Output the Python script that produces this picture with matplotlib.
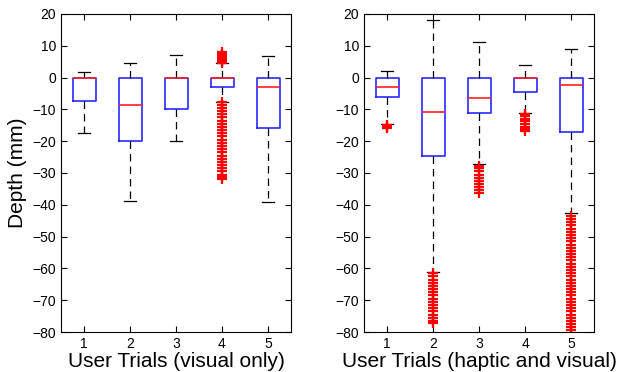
import matplotlib
matplotlib.use('Agg')
import matplotlib.pyplot as plt

plt.rcParams['font.family'] = ['Liberation Sans', 'DejaVu Sans']

trials = [1, 2, 3, 4, 5]

# visual only: whisker low, q1, median, q3, whisker high
vis_whislo = [-17.4, -38.7, -20.0, -7.6, -39.0]
vis_q1 = [-7.4, -19.9, -10.0, -3.1, -15.8]
vis_med = [0.0, -8.5, 0.0, 0.0, -2.9]
vis_q3 = [0.0, 0.0, 0.0, 0.0, 0.0]
vis_whishi = [1.8, 4.5, 7.1, 4.5, 6.9]
vis_fliers = [
    [],
    [],
    [],
    [8.0, 7.5, 7.0, 6.5, 6.0, 5.5, 5.0, 4.6,
     -7.8, -8.5, -9.5, -10.5, -11.5, -12.5, -13.5, -14.5, -15.5, -16.5,
     -17.5, -18.5, -19.5, -20.5, -21.5, -22.5, -23.5, -24.5, -25.5,
     -26.5, -27.5, -28.5, -29.5, -30.5, -31.2, -31.8],
    [],
]

# haptic and visual
hap_whislo = [-14.5, -61.0, -27.3, -11.0, -42.5]
hap_q1 = [-6.0, -24.5, -11.0, -4.4, -17.2]
hap_med = [-2.9, -10.7, -6.4, 0.0, -2.3]
hap_q3 = [0.0, 0.0, 0.0, 0.0, 0.0]
hap_whishi = [2.0, 18.2, 11.3, 4.1, 9.0]
hap_fliers = [
    [-14.8, -15.2, -15.6, -16.0],
    [-61.5, -62.5, -63.5, -64.5, -65.5, -66.5, -67.5, -68.5, -69.5,
     -70.5, -71.5, -72.5, -73.5, -74.5, -75.5, -76.5, -77.3],
    [-27.8, -28.5, -29.5, -30.5, -31.5, -32.5, -33.5, -34.5, -35.5, -36.2],
    [-11.5, -12.2, -13.0, -13.8, -14.6, -15.4, -16.2, -16.8],
    [-43.5, -44.5, -45.5, -46.5, -47.5, -48.5, -49.5, -50.5, -51.5, -52.5,
     -53.5, -54.5, -55.5, -56.5, -57.5, -58.5, -59.5, -60.5, -61.5, -62.5,
     -63.5, -64.5, -65.5, -66.5, -67.5, -68.5, -69.5, -70.5, -71.5, -72.5,
     -73.5, -74.5, -75.5, -76.5, -77.5, -78.5, -79.5],
]

yticks = [20, 10, 0, -10, -20, -30, -40, -50, -60, -70, -80]


def make_stats(lo, q1, med, q3, hi, fliers):
    stats = []
    for i in range(len(lo)):
        stats.append({'whislo': lo[i], 'q1': q1[i], 'med': med[i],
                      'q3': q3[i], 'whishi': hi[i], 'fliers': fliers[i]})
    return stats


def draw(ax, stats, xlabel):
    ax.bxp(stats, positions=trials, widths=0.5, showfliers=True,
           boxprops=dict(color='#2a2aff', linewidth=1.2),
           medianprops=dict(color='#ff2020', linewidth=1.2),
           whiskerprops=dict(color='black', linestyle=(0, (6, 4)), linewidth=0.9),
           capprops=dict(color='black', linewidth=0.9),
           flierprops=dict(marker='+', markeredgecolor='red', markersize=7,
                           markeredgewidth=1.6, linestyle='none'))
    ax.set_xlim(0.5, 5.5)
    ax.set_ylim(-80, 20)
    ax.set_yticks(yticks)
    ax.set_xticks(trials)
    ax.set_xticklabels([str(t) for t in trials])
    ax.tick_params(direction='in', top=True, right=True, labelsize=10, length=4)
    ax.set_xlabel(xlabel, fontsize=15, labelpad=1)


fig = plt.figure(figsize=(6.29, 3.72), dpi=100)
ax1 = fig.add_axes([61 / 629, 1 - 332 / 372, 230 / 629, 318 / 372])
ax2 = fig.add_axes([364 / 629, 1 - 332 / 372, 230 / 629, 318 / 372])

draw(ax1, make_stats(vis_whislo, vis_q1, vis_med, vis_q3, vis_whishi, vis_fliers),
     'User Trials (visual only)')
draw(ax2, make_stats(hap_whislo, hap_q1, hap_med, hap_q3, hap_whishi, hap_fliers),
     'User Trials (haptic and visual)')
ax1.set_ylabel('Depth (mm)', fontsize=15, labelpad=4)

fig.savefig('out.png', dpi=100)
